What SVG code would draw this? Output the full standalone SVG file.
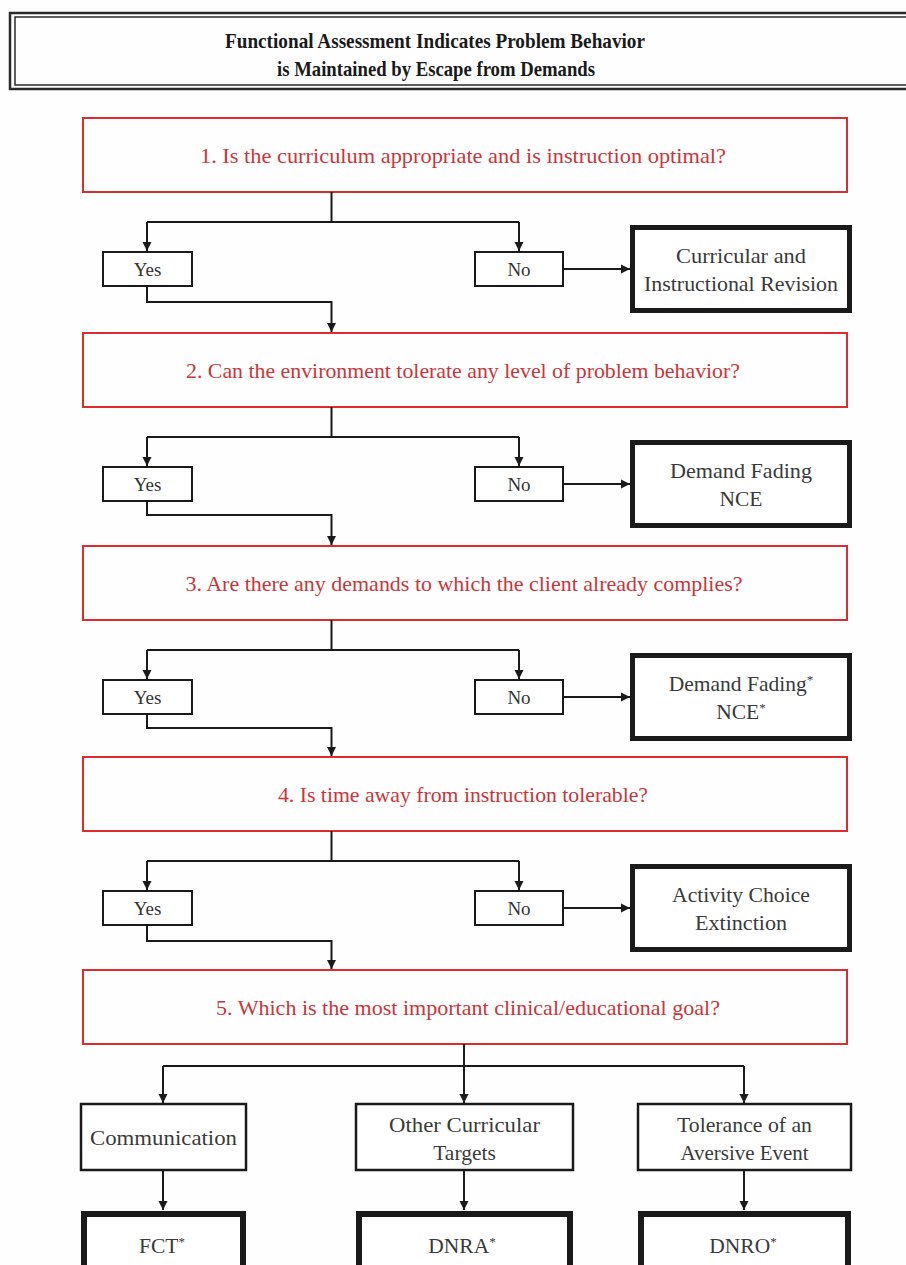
<svg xmlns="http://www.w3.org/2000/svg" width="906" height="1265" viewBox="0 0 906 1265">
  <defs>
    <marker id="arrow" viewBox="0 0 10 10" refX="10" refY="5" markerWidth="9" markerHeight="10" markerUnits="userSpaceOnUse" orient="auto">
      <path d="M0,0 L10,5 L0,10 z" fill="#1a1a1a"/>
    </marker>
    <style>
      text { font-family: "Liberation Serif", "DejaVu Serif", serif; text-anchor: middle; }
      .title { font-size: 21px; font-weight: bold; fill: #1a1a1a; }
      .q { fill: none; stroke: #de2b2b; stroke-width: 2; }
      .qt { font-size: 21px; fill: #c9363a; }
      .yn { fill: #fff; stroke: #1a1a1a; stroke-width: 2; }
      .ynt { font-size: 19px; fill: #333; }
      .res { fill: #fff; stroke: #1a1a1a; stroke-width: 5; }
      .rt { font-size: 21.5px; fill: #3a3a3a; }
      .opt { fill: #fff; stroke: #1a1a1a; stroke-width: 2.5; }
      .fin { fill: #fff; stroke: #1a1a1a; stroke-width: 6; }
      .wire { fill: none; stroke: #1a1a1a; stroke-width: 2; }
      .sup { font-size: 13px; }
    </style>
  </defs>

  <rect width="906" height="1265" fill="#fefefe"/>

  <!-- title banner with double rule -->
  <g id="title">
    <rect x="10" y="13" width="910" height="76" fill="none" stroke="#2a2a2a" stroke-width="2.5"/>
    <rect x="15" y="17" width="905" height="68" fill="none" stroke="#2a2a2a" stroke-width="1.5"/>
    <text class="title" x="435" y="48" textLength="420" lengthAdjust="spacingAndGlyphs">Functional Assessment Indicates Problem Behavior</text>
    <text class="title" x="436" y="76" textLength="318" lengthAdjust="spacingAndGlyphs">is Maintained by Escape from Demands</text>
  </g>

  <!-- questions -->
  <g id="q1">
    <rect class="q" x="83" y="118" width="764" height="74"/>
    <text class="qt" x="463" y="163" textLength="526" lengthAdjust="spacingAndGlyphs">1. Is the curriculum appropriate and is instruction optimal?</text>
  </g>
  <g id="q2">
    <rect class="q" x="83" y="333" width="764" height="74"/>
    <text class="qt" x="463" y="378" textLength="554" lengthAdjust="spacingAndGlyphs">2. Can the environment tolerate any level of problem behavior?</text>
  </g>
  <g id="q3">
    <rect class="q" x="83" y="546" width="764" height="74"/>
    <text class="qt" x="464" y="591" textLength="557" lengthAdjust="spacingAndGlyphs">3. Are there any demands to which the client already complies?</text>
  </g>
  <g id="q4">
    <rect class="q" x="83" y="757" width="764" height="74"/>
    <text class="qt" x="463" y="802" textLength="370" lengthAdjust="spacingAndGlyphs">4. Is time away from instruction tolerable?</text>
  </g>
  <g id="q5">
    <rect class="q" x="83" y="970" width="764" height="74"/>
    <text class="qt" x="468" y="1015" textLength="504" lengthAdjust="spacingAndGlyphs">5. Which is the most important clinical/educational goal?</text>
  </g>

  <!-- yes / no answers -->
  <g id="yes1"><rect class="yn" x="103" y="252" width="89" height="34"/><text class="ynt" x="147.5" y="276">Yes</text></g>
  <g id="no1"><rect class="yn" x="475" y="252" width="88" height="34"/><text class="ynt" x="519" y="276">No</text></g>
  <g id="yes2"><rect class="yn" x="103" y="467" width="89" height="34"/><text class="ynt" x="147.5" y="491">Yes</text></g>
  <g id="no2"><rect class="yn" x="475" y="467" width="88" height="34"/><text class="ynt" x="519" y="491">No</text></g>
  <g id="yes3"><rect class="yn" x="103" y="680" width="89" height="34"/><text class="ynt" x="147.5" y="704">Yes</text></g>
  <g id="no3"><rect class="yn" x="475" y="680" width="88" height="34"/><text class="ynt" x="519" y="704">No</text></g>
  <g id="yes4"><rect class="yn" x="103" y="891" width="89" height="34"/><text class="ynt" x="147.5" y="915">Yes</text></g>
  <g id="no4"><rect class="yn" x="475" y="891" width="88" height="34"/><text class="ynt" x="519" y="915">No</text></g>

  <!-- interventions for "No" -->
  <g id="r1">
    <rect class="res" x="632.5" y="227.5" width="217" height="83"/>
    <text class="rt" x="741" y="263" textLength="130" lengthAdjust="spacingAndGlyphs">Curricular and</text>
    <text class="rt" x="741" y="291" textLength="194" lengthAdjust="spacingAndGlyphs">Instructional Revision</text>
  </g>
  <g id="r2">
    <rect class="res" x="632.5" y="442.5" width="217" height="83"/>
    <text class="rt" x="741" y="478" textLength="142" lengthAdjust="spacingAndGlyphs">Demand Fading</text>
    <text class="rt" x="741" y="506">NCE</text>
  </g>
  <g id="r3">
    <rect class="res" x="632.5" y="655.5" width="217" height="83"/>
    <text class="rt" x="741" y="691">Demand Fading<tspan class="sup" dy="-7">*</tspan></text>
    <text class="rt" x="741" y="719">NCE<tspan class="sup" dy="-7">*</tspan></text>
  </g>
  <g id="r4">
    <rect class="res" x="632.5" y="866.5" width="217" height="83"/>
    <text class="rt" x="741" y="902" textLength="138" lengthAdjust="spacingAndGlyphs">Activity Choice</text>
    <text class="rt" x="741" y="930" textLength="92" lengthAdjust="spacingAndGlyphs">Extinction</text>
  </g>

  <!-- goals -->
  <g id="goal-communication">
    <rect class="opt" x="81" y="1104" width="165" height="66"/>
    <text class="rt" x="163.5" y="1145" textLength="147" lengthAdjust="spacingAndGlyphs">Communication</text>
  </g>
  <g id="goal-curricular">
    <rect class="opt" x="356" y="1104" width="217" height="66"/>
    <text class="rt" x="464.5" y="1132" textLength="151" lengthAdjust="spacingAndGlyphs">Other Curricular</text>
    <text class="rt" x="464.5" y="1160">Targets</text>
  </g>
  <g id="goal-tolerance">
    <rect class="opt" x="638" y="1104" width="213" height="66"/>
    <text class="rt" x="744.5" y="1132" textLength="135" lengthAdjust="spacingAndGlyphs">Tolerance of an</text>
    <text class="rt" x="744.5" y="1160" textLength="128" lengthAdjust="spacingAndGlyphs">Aversive Event</text>
  </g>

  <!-- procedures -->
  <g id="fct">
    <rect class="fin" x="84" y="1214" width="159" height="70"/>
    <text class="rt" x="162" y="1253">FCT<tspan class="sup" dy="-7">*</tspan></text>
  </g>
  <g id="dnra">
    <rect class="fin" x="359" y="1214" width="211" height="70"/>
    <text class="rt" x="462" y="1253">DNRA<tspan class="sup" dy="-7">*</tspan></text>
  </g>
  <g id="dnro">
    <rect class="fin" x="641" y="1214" width="207" height="70"/>
    <text class="rt" x="743" y="1253">DNRO<tspan class="sup" dy="-7">*</tspan></text>
  </g>

  <!-- connectors -->
  <g id="connectors" class="wire">
    <!-- question 1 -->
    <path d="M331.5,192 V222 M147,222 H519"/>
    <path d="M147,222 V251" marker-end="url(#arrow)"/>
    <path d="M519,222 V251" marker-end="url(#arrow)"/>
    <path d="M563,269 H630" marker-end="url(#arrow)"/>
    <path d="M147,286 V302 H331.5 V332" marker-end="url(#arrow)"/>
    <!-- question 2 -->
    <path d="M331.5,407 V437 M147,437 H519"/>
    <path d="M147,437 V466" marker-end="url(#arrow)"/>
    <path d="M519,437 V466" marker-end="url(#arrow)"/>
    <path d="M563,484 H630" marker-end="url(#arrow)"/>
    <path d="M147,501 V515 H331.5 V545" marker-end="url(#arrow)"/>
    <!-- question 3 -->
    <path d="M331.5,620 V650 M147,650 H519"/>
    <path d="M147,650 V679" marker-end="url(#arrow)"/>
    <path d="M519,650 V679" marker-end="url(#arrow)"/>
    <path d="M563,697 H630" marker-end="url(#arrow)"/>
    <path d="M147,714 V728 H331.5 V756" marker-end="url(#arrow)"/>
    <!-- question 4 -->
    <path d="M331.5,831 V861 M147,861 H519"/>
    <path d="M147,861 V890" marker-end="url(#arrow)"/>
    <path d="M519,861 V890" marker-end="url(#arrow)"/>
    <path d="M563,908 H630" marker-end="url(#arrow)"/>
    <path d="M147,925 V941 H331.5 V969" marker-end="url(#arrow)"/>
    <!-- question 5 -->
    <path d="M464,1044 V1066 M163,1066 H744"/>
    <path d="M163,1066 V1103" marker-end="url(#arrow)"/>
    <path d="M464,1066 V1103" marker-end="url(#arrow)"/>
    <path d="M744,1066 V1103" marker-end="url(#arrow)"/>
    <path d="M163,1170 V1210" marker-end="url(#arrow)"/>
    <path d="M464,1170 V1210" marker-end="url(#arrow)"/>
    <path d="M744,1170 V1210" marker-end="url(#arrow)"/>
  </g>
</svg>
